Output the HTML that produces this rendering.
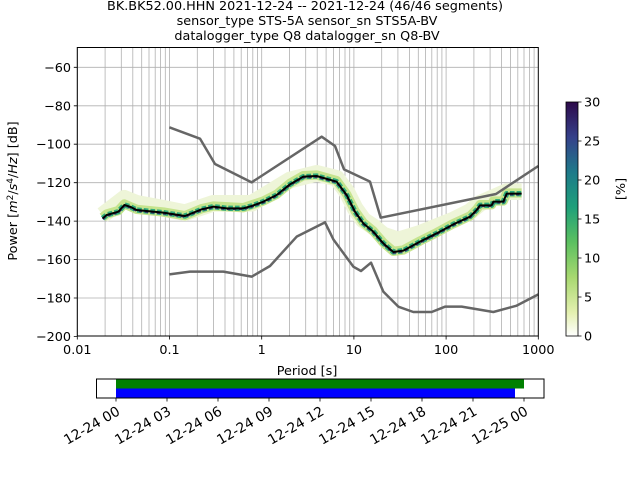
<!DOCTYPE html>
<html><head><meta charset="utf-8"><style>
body{margin:0;background:#fff;}
svg{display:block;font-family:"DejaVu Sans","Liberation Sans",sans-serif;}
</style></head><body>
<svg width="640" height="480" viewBox="0 0 640 480" xmlns="http://www.w3.org/2000/svg">
<rect width="640" height="480" fill="#fff"/>
<g font-size="12.8" text-anchor="middle" fill="#000">
<text x="305" y="10">BK.BK52.00.HHN   2021-12-24 -- 2021-12-24  (46/46 segments)</text>
<text x="307" y="25">sensor_type STS-5A sensor_sn STS5A-BV</text>
<text x="307" y="40">datalogger_type Q8 datalogger_sn Q8-BV</text>
</g>
<g stroke="#b0b0b0" stroke-width="0.8">
<path d="M77.3 47V336M105.1 47V336M121.3 47V336M132.8 47V336M141.7 47V336M149.0 47V336M155.2 47V336M160.6 47V336M165.3 47V336M169.5 47V336
M197.3 47V336M213.5 47V336M225.0 47V336M233.9 47V336M241.2 47V336M247.4 47V336M252.8 47V336M257.5 47V336M261.7 47V336
M289.5 47V336M305.7 47V336M317.2 47V336M326.1 47V336M333.4 47V336M339.6 47V336M345.0 47V336M349.7 47V336M353.9 47V336
M381.7 47V336M397.9 47V336M409.4 47V336M418.3 47V336M425.6 47V336M431.8 47V336M437.2 47V336M441.9 47V336M446.1 47V336
M473.9 47V336M490.1 47V336M501.6 47V336M510.5 47V336M517.8 47V336M524.0 47V336M529.4 47V336M534.1 47V336
M77 67.3H538M77 105.8H538M77 144.2H538M77 182.7H538M77 221.1H538M77 259.6H538M77 298H538"/>
</g>
<g transform="translate(70,40) scale(0.33333)" fill="none" stroke-linejoin="round" stroke-linecap="butt">
<polyline stroke="#eef5d8" stroke-width="50" points="98,525 163,475 200,490 280,505 345,518 430,490 545,490 660,420 740,400 800,415 830,455 855,505 880,540 910,560 940,585 985,600 1050,580 1100,560 1150,540 1200,515 1230,490 1310,455 1355,455"/>
<polyline stroke="#c6e48e" stroke-width="28" points="98,532 110,522 145,512 163,492 200,508 280,516 345,527 395,506 430,498 520,503 580,483 620,463 660,430 700,407 740,405 800,422 830,463 855,513 880,548 910,573 940,608 970,634 1000,630 1050,603 1100,578 1150,551 1200,528 1220,508 1230,494 1265,494 1270,483 1300,483 1310,459 1355,459"/>
<polyline stroke="#2eaa7a" stroke-width="16" stroke-dasharray="14 6" points="98,535 110,525 145,515 163,495 180,500 200,510 230,513 280,518 345,528 395,508 430,500 470,505 520,505 545,498 580,485 620,465 660,433 700,410 740,408 800,425 830,465 855,515 880,550 910,575 940,610 970,636 1000,632 1050,605 1100,580 1150,553 1200,530 1220,510 1230,496 1265,496 1270,485 1300,485 1310,461 1355,461"/>
<polyline stroke="#3a3070" stroke-width="7" stroke-dasharray="10 8" points="98,537 110,527 145,517 163,497 180,502 200,512 230,515 280,520 345,530 395,510 430,502 470,507 520,507 545,500 580,487 620,467 660,435 700,412 740,410 800,427 830,467 855,517 880,552 910,577 940,612 970,638 1000,634 1050,607 1100,582 1150,555 1200,532 1220,512 1230,498 1265,498 1270,487 1300,487 1310,463 1355,463"/>
<polyline stroke="#000" stroke-width="6" points="98,535 110,525 145,515 163,495 180,500 200,510 230,513 280,518 345,528 395,508 430,500 470,505 520,505 545,498 580,485 620,465 660,433 700,410 740,408 800,425 830,465 855,515 880,550 910,575 940,610 970,636 1000,632 1050,605 1100,580 1150,553 1200,530 1220,510 1230,496 1265,496 1270,485 1300,485 1310,461 1355,461"/>
<polyline stroke="#666" stroke-width="7.5" points="298,262 390,296 435,372 545,427 755,290 795,318 822,388 900,425 932,533 1278,462 1405,378"/>
<polyline stroke="#666" stroke-width="7.5" points="298,703 360,695 460,695 545,710 600,678 680,590 765,547 790,598 850,680 873,693 903,668 940,755 985,800 1030,816 1085,816 1125,800 1175,800 1270,816 1340,797 1405,763"/>
</g>
<rect x="77.3" y="47.5" width="461" height="288.5" fill="none" stroke="#000" stroke-width="1"/>
<g stroke="#000" stroke-width="0.8">
<path d="M73.8 67.3H77.3M73.8 105.8H77.3M73.8 144.2H77.3M73.8 182.7H77.3M73.8 221.1H77.3M73.8 259.6H77.3M73.8 298H77.3M73.8 336.4H77.3
M77.3 336V339.5M169.5 336V339.5M261.7 336V339.5M353.9 336V339.5M446.1 336V339.5M538.3 336V339.5"/>
</g>
<g font-size="12.8" text-anchor="end">
<text x="71" y="71.8">−60</text><text x="71" y="110.3">−80</text><text x="71" y="148.7">−100</text>
<text x="71" y="187.2">−120</text><text x="71" y="225.6">−140</text><text x="71" y="264.1">−160</text>
<text x="71" y="302.5">−180</text><text x="71" y="340.9">−200</text>
</g>
<g font-size="12.8" text-anchor="middle">
<text x="77.3" y="354">0.01</text><text x="169.5" y="354">0.1</text><text x="261.7" y="354">1</text>
<text x="353.9" y="354">10</text><text x="446.1" y="354">100</text><text x="538.3" y="354">1000</text>
<text x="307" y="375">Period [s]</text>
</g>
<text font-size="12.8" text-anchor="middle" transform="translate(17,191) rotate(-90)">Power [<tspan font-style="italic">m</tspan><tspan dy="-4" font-size="9">2</tspan><tspan dy="4">/</tspan><tspan font-style="italic">s</tspan><tspan dy="-4" font-size="9">4</tspan><tspan dy="4">/</tspan><tspan font-style="italic">Hz</tspan>] [dB]</text>
<defs><linearGradient id="cb" x1="0" y1="1" x2="0" y2="0">
<stop offset="0" stop-color="#ffffff"/><stop offset="0.1" stop-color="#e4f0b0"/><stop offset="0.25" stop-color="#a8d870"/>
<stop offset="0.4" stop-color="#5cc060"/><stop offset="0.55" stop-color="#1fa07a"/><stop offset="0.7" stop-color="#1e7a8a"/>
<stop offset="0.85" stop-color="#35408a"/><stop offset="1" stop-color="#2d0a4a"/></linearGradient></defs>
<rect x="566" y="102" width="12" height="234" fill="url(#cb)" stroke="#000" stroke-width="0.8"/>
<g stroke="#000" stroke-width="0.8"><path d="M578 336H581.5M578 297H581.5M578 258H581.5M578 219H581.5M578 180H581.5M578 141H581.5M578 102H581.5"/></g>
<g font-size="12.8"><text x="584" y="340.5">0</text><text x="584" y="301.5">5</text><text x="584" y="262.5">10</text><text x="584" y="223.5">15</text><text x="584" y="184.5">20</text><text x="584" y="145.5">25</text><text x="584" y="106.5">30</text></g>
<text font-size="12.8" text-anchor="middle" transform="translate(625,189) rotate(-90)">[%]</text>
<rect x="116" y="379" width="408" height="9.5" fill="#008000"/>
<rect x="116" y="388.5" width="399" height="9.5" fill="#0000ff"/>
<rect x="96.5" y="379" width="447.5" height="19" fill="none" stroke="#000" stroke-width="1"/>
<g stroke="#000" stroke-width="0.8"><path d="M116 398V401.5M167 398V401.5M218 398V401.5M269 398V401.5M320 398V401.5M371 398V401.5M422 398V401.5M473 398V401.5M524 398V401.5"/></g>
<g font-size="13.8" text-anchor="end">
<text transform="translate(121,414) rotate(-30)">12-24 00</text>
<text transform="translate(172,414) rotate(-30)">12-24 03</text>
<text transform="translate(223,414) rotate(-30)">12-24 06</text>
<text transform="translate(274,414) rotate(-30)">12-24 09</text>
<text transform="translate(325,414) rotate(-30)">12-24 12</text>
<text transform="translate(376,414) rotate(-30)">12-24 15</text>
<text transform="translate(427,414) rotate(-30)">12-24 18</text>
<text transform="translate(478,414) rotate(-30)">12-24 21</text>
<text transform="translate(529,414) rotate(-30)">12-25 00</text>
</g>
</svg>
</body></html>
